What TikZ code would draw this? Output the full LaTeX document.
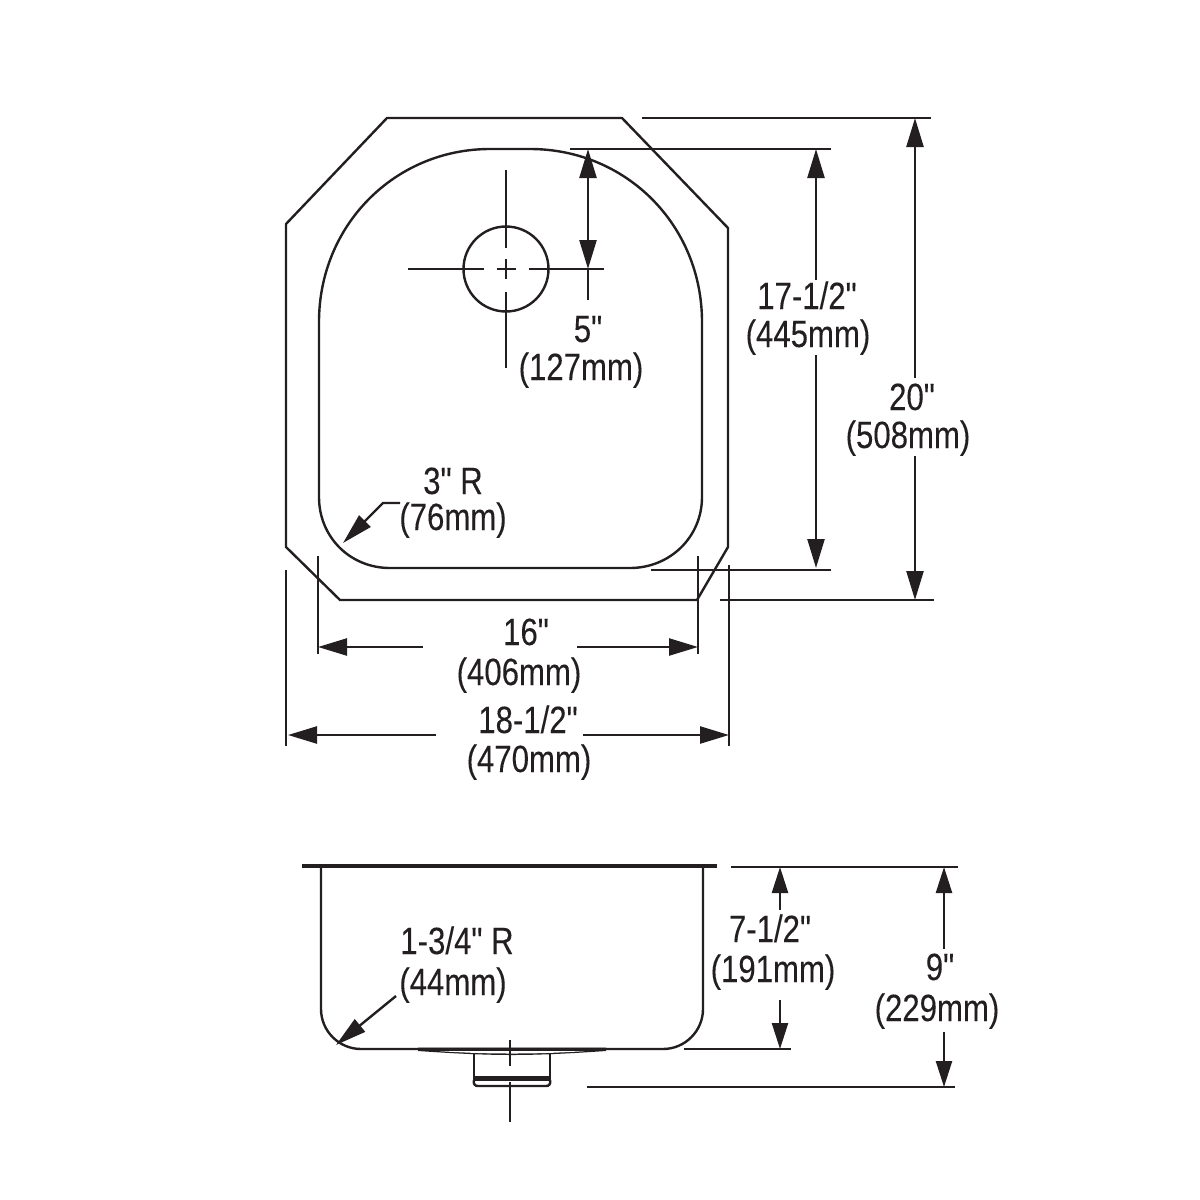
\documentclass[tikz,border=0pt]{standalone}
\usepackage{fontspec}
\newfontfamily\labfont[FakeStretch=0.82,FakeBold=0.15,Ligatures=NoCommon]{Liberation Sans}
\usetikzlibrary{arrows.meta}
\tikzset{
  outline/.style={draw=ink,line width=2.4pt,line join=miter},
  thinline/.style={draw=ink,line width=2.2pt},
  dimhalf/.style={draw=ink,line width=2.4pt,-{Triangle[length=29pt,width=17pt]}},
  dimshort/.style={draw=ink,line width=2.4pt,-{Triangle[length=26pt,width=16pt]}},
  leader/.style={draw=ink,line width=2.4pt,-{Triangle[length=31pt,width=16pt]}},
  lab/.style={anchor=base,inner sep=0pt,text=ink,font=\labfont\fontsize{38}{40}\selectfont},
}
\definecolor{ink}{HTML}{231F20}
% vertical dimension: style, name, x, arrow tip top, break top, break bottom, arrow tip bottom
\newcommand{\dimV}[7]{%
  \coordinate (#2-a) at (#3,#4); \coordinate (#2-b) at (#3,#5);
  \coordinate (#2-c) at (#3,#6); \coordinate (#2-d) at (#3,#7);
  \draw[#1] (#2-b) -- (#2-a); \draw[#1] (#2-c) -- (#2-d);}
% horizontal dimension: name, y, arrow tip left, break left, break right, arrow tip right
\newcommand{\dimH}[6]{%
  \coordinate (#1-a) at (#3,#2); \coordinate (#1-b) at (#4,#2);
  \coordinate (#1-c) at (#5,#2); \coordinate (#1-d) at (#6,#2);
  \draw[dimhalf] (#1-b) -- (#1-a); \draw[dimhalf] (#1-c) -- (#1-d);}
\begin{document}
\begin{tikzpicture}[x=1pt,y=-1pt]
\useasboundingbox (0,0) rectangle (1200,1200);
% top view outline
\draw[outline] (387,118) -- (622,118) -- (728,228) -- (728,547) -- (697,600) -- (340,600) -- (286,547) -- (286,224) -- cycle;
% bowl
\draw[outline] (319,322) .. controls (319,225) and (395,149) .. (490,149)
  -- (530,149) .. controls (626,149) and (702,225) .. (702,322)
  -- (702,497) .. controls (702,537) and (670,568) .. (630,568)
  -- (390,568) .. controls (350,568) and (319,537) .. (319,497) -- cycle;
% drain hole
\draw[outline] (506,269) circle (42.5);
\foreach \a/\b in {408/484,497/516,529/604} \draw[thinline] (\a,269) -- (\b,269);
\foreach \a/\b in {170/248,259/279,292/368} \draw[thinline] (506,\a) -- (506,\b);
% 5 inch dimension
\coordinate (five-a) at (588,149); \coordinate (five-b) at (588,269); \coordinate (five-c) at (588,300);
\draw[dimhalf] (588,210) -- (five-a);
\draw[dimhalf] (588,210) -- (five-b);
\draw[thinline] (five-b) -- (five-c);
% extension lines, top view
\draw[thinline] (570,149) -- (831,149);
\draw[thinline] (651,570) -- (831,570);
\draw[thinline] (642,118) -- (931,118);
\draw[thinline] (720,600) -- (934,600);
\draw[thinline] (318,556) -- (318,654);
\draw[thinline] (698,556) -- (698,654);
\draw[thinline] (286,570) -- (286,746);
\draw[thinline] (729,565) -- (729,746);
% dimensions, top view
\dimV{dimhalf}{d17}{816}{149}{280}{355}{568}
\dimV{dimhalf}{d20}{915}{118}{378}{456}{600}
\dimH{d16}{647}{318}{423}{577}{698}
\dimH{d18}{735}{288}{436}{583}{729}
% labels, top view
\node[lab] (t17a) at (807,309) {17-1/2"};
\node[lab] (t17b) at (808,347) {(445mm)};
\node[lab] (t20a) at (912,410) {20"};
\node[lab] (t20b) at (908,448) {(508mm)};
\node[lab] (t5a) at (588,342) {5"};
\node[lab] (t5b) at (581,380) {(127mm)};
\node[lab] (t3a) at (453,494) {3" R};
\node[lab] (t3b) at (453,530) {(76mm)};
\node[lab] (t16a) at (526,645) {16"};
\node[lab] (t16b) at (519,685) {(406mm)};
\node[lab] (t18a) at (528,733) {18-1/2"};
\node[lab] (t18b) at (529,772) {(470mm)};
% leader 3 R
\coordinate (l3a) at (400,503); \coordinate (l3b) at (383,503); \coordinate (l3c) at (343,543);
\draw[leader] (l3a) -- (l3b) -- (l3c);
% side view
\draw[draw=ink,line width=4.5pt] (302,866) -- (717,866);
\draw[outline] (321,866) -- (321,1009) .. controls (321,1031) and (339,1049) .. (361,1049)
  -- (663,1049) .. controls (685,1049) and (703,1031) .. (703,1009) -- (703,866);
% drain, side view
\fill[ink] (418,1047.5) -- (606,1047.5) -- (606,1051) .. controls (570,1053.5) and (540,1055) .. (512,1055)
  .. controls (484,1055) and (454,1053.5) .. (418,1051) -- cycle;
\fill[white] (440,1051.2) .. controls (470,1053) and (490,1053.5) .. (512,1053.5)
  .. controls (534,1053.5) and (554,1053) .. (584,1051.2) -- cycle;
\draw[outline] (474,1053) -- (474,1076);
\draw[outline] (550,1053) -- (550,1076);
\fill[ink] (473,1076) rectangle (551,1081);
\draw[outline] (474,1080) .. controls (473,1084) and (475,1086) .. (478,1086) -- (546,1086) .. controls (549,1086) and (551,1084) .. (550,1080);
\draw[thinline] (510,1040) -- (510,1066);
\draw[thinline] (510,1082) -- (510,1122);
% extension lines, side view
\draw[thinline] (731,867) -- (958,867);
\draw[thinline] (684,1049) -- (791,1049);
\draw[thinline] (587,1087) -- (955,1087);
% dimensions, side view
\dimV{dimshort}{d7}{780}{867}{910}{1000}{1049}
\dimV{dimshort}{d9}{944}{867}{949}{1032}{1087}
% labels, side view
\node[lab] (t1a) at (457,954) {1-3/4" R};
\node[lab] (t1b) at (453,995) {(44mm)};
\node[lab] (t7a) at (770,942) {7-1/2"};
\node[lab] (t7b) at (773,982) {(191mm)};
\node[lab] (t9a) at (940,980) {9"};
\node[lab] (t9b) at (937,1021) {(229mm)};
% leader 1-3/4 R
\coordinate (l1a) at (396,996); \coordinate (l1b) at (336,1045);
\draw[leader] (l1a) -- (l1b);
\end{tikzpicture}
\end{document}
